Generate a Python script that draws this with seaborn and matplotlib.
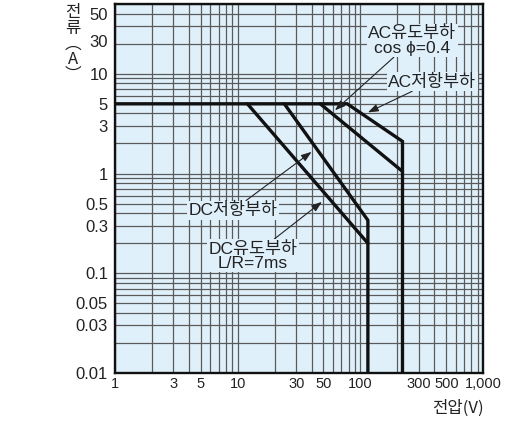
import matplotlib
matplotlib.use("Agg")
import matplotlib.pyplot as plt
import matplotlib.ticker as mticker
import matplotlib.transforms as mtransforms
import seaborn as sns
import pandas as pd
import numpy as np

# ---- data ----
ac_res_v = [1, 78, 220, 220]
ac_res_i = [5, 5, 2.1, 0.01]
ac_ind_v = [47, 220]
ac_ind_i = [5, 1.05]
dc_res_v = [24, 115, 115]
dc_res_i = [5, 0.34, 0.01]
dc_ind_v = [12, 115]
dc_ind_i = [5, 0.2]

x_ticks = [1, 3, 5, 10, 30, 50, 100, 300, 500, 1000]
x_tick_labels = ["1", "3", "5", "10", "30", "50", "100", "300", "500", "1,000"]
y_ticks = [0.01, 0.03, 0.05, 0.1, 0.3, 0.5, 1, 3, 5, 10, 30, 50]
y_tick_labels = ["0.01", "0.03", "0.05", "0.1", "0.3", "0.5", "1", "3", "5", "10", "30", "50"]

sns.set_theme(style="white")
plt.rcParams["font.family"] = ["Liberation Sans", "Noto Sans CJK KR", "DejaVu Sans"]

frames = []
for name, v, i in [("AC저항부하", ac_res_v, ac_res_i), ("AC유도부하", ac_ind_v, ac_ind_i),
                   ("DC저항부하", dc_res_v, dc_res_i), ("DC유도부하", dc_ind_v, dc_ind_i)]:
    frames.append(pd.DataFrame({"V": v, "I": i, "series": name}))
df = pd.concat(frames, ignore_index=True)

fig = plt.figure(figsize=(5.06, 4.23), dpi=100)
ax = fig.add_axes([0.227, 0.118, 0.728, 0.8725])
bg = "#dff0fb"
grid_c = "#5a5a5a"
ax.set_facecolor(bg)

ax.set_xscale("log")
ax.set_yscale("log")
ax.set_xlim(1, 1000)
ax.set_ylim(0.01, 50)

for name, sub in df.groupby("series", sort=False):
    sns.lineplot(data=sub, x="V", y="I", ax=ax, color="#111111", linewidth=2.4,
                 sort=False, estimator=None, legend=False, zorder=3,
                 solid_joinstyle="miter")

# grid at every 1..9 x decade
for dec in [1, 10, 100]:
    for s in range(1, 10):
        ax.axvline(dec * s, color=grid_c, linewidth=0.9, zorder=1)
for dec in [0.01, 0.1, 1, 10]:
    for s in range(1, 10):
        val = dec * s
        if val <= 50:
            ax.axhline(val, color=grid_c, linewidth=0.9, zorder=1)

ax.set_xticks(x_ticks)
ax.set_xticklabels(x_tick_labels, fontsize=10.5, color="#222222")
ax.set_yticks(y_ticks)
ax.set_yticklabels(y_tick_labels, fontsize=12, color="#222222")
ax.xaxis.set_minor_locator(mticker.NullLocator())
ax.yaxis.set_minor_locator(mticker.NullLocator())
ax.tick_params(axis="x", length=0, pad=3)
ax.tick_params(axis="y", length=0, pad=5)

# the reference places its top labels a little lower than the gridlines
fig.canvas.draw()
shifts = {"50": -7, "30": -11}
for lab in ax.get_yticklabels():
    if lab.get_text() in shifts:
        dy = shifts[lab.get_text()]
        lab.set_transform(lab.get_transform() +
                          mtransforms.ScaledTranslation(0, dy / 72, fig.dpi_scale_trans))

for sp in ax.spines.values():
    sp.set_color("#111111")
    sp.set_linewidth(1.7)
    sp.set_zorder(4)

ax.set_xlabel("")
ax.set_ylabel("")

# axis labels
fig.text(458 / 506, 1 - 408 / 423, "전압(V)", fontsize=12, ha="center", va="center",
         color="#222222", family=["Noto Sans CJK KR", "DejaVu Sans"])
fig.text(73 / 506, 1 - 4 / 423, "전\n류\n︵\nA\n︶", fontsize=12, ha="center", va="top",
         linespacing=0.9, color="#222222", family=["Noto Sans CJK KR", "DejaVu Sans"])

box = dict(boxstyle="square,pad=0.08", facecolor=bg, edgecolor="none")
arrow = dict(arrowstyle="-|>,head_length=0.5,head_width=0.18", color="#222222",
             linewidth=0.8, shrinkA=0, shrinkB=0)

ax.annotate("AC유도부하\ncos ϕ=0.4", xy=(62, 4.3), xytext=(264, 21.5),
            fontsize=12.5, ha="center", va="center", color="#222222", linespacing=0.95,
            bbox=box, arrowprops=arrow, zorder=5)
ax.annotate("AC저항부하", xy=(115, 4.1), xytext=(383, 8.3),
            fontsize=12.5, ha="center", va="center", color="#222222",
            bbox=box, arrowprops=arrow, zorder=5)
ax.annotate("DC저항부하", xy=(40, 1.65), xytext=(9.2, 0.43),
            fontsize=12.5, ha="center", va="center", color="#222222",
            bbox=box, arrowprops=arrow, zorder=5)
ax.annotate("DC유도부하\nL/R=7ms", xy=(48.5, 0.52), xytext=(13.3, 0.15),
            fontsize=12.5, ha="center", va="center", color="#222222", linespacing=0.95,
            bbox=box, arrowprops=arrow, zorder=5)

fig.savefig("out.png", dpi=100, facecolor="white")
